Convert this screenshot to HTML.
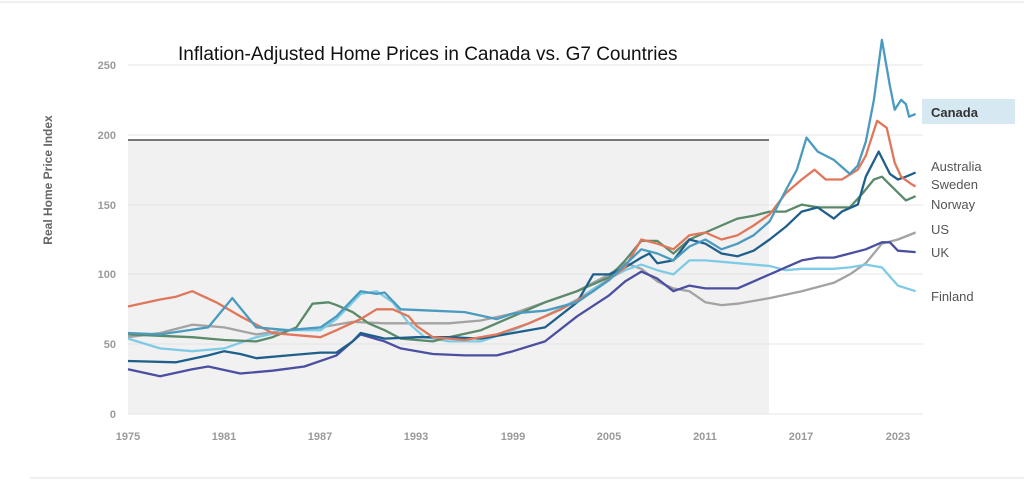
<!DOCTYPE html>
<html><head><meta charset="utf-8"><style>
html,body{margin:0;padding:0;background:#fff;width:1024px;height:480px;overflow:hidden}
svg{display:block;font-family:"Liberation Sans",sans-serif}
</style></head><body>
<svg id="s" width="1024" height="480" xmlns="http://www.w3.org/2000/svg">
<rect x="0" y="0" width="1024" height="480" fill="#fff"/>
<line x1="0" y1="2" x2="1024" y2="2" stroke="#f0f0f0" stroke-width="2"/>
<line x1="30" y1="478" x2="1024" y2="478" stroke="#f0f0f0" stroke-width="2"/>
<rect x="128" y="140" width="641" height="274" fill="#f1f1f1"/>
<g stroke="#e4e4e4" stroke-width="1">
<line x1="128" y1="65" x2="923" y2="65"/><line x1="128" y1="135" x2="923" y2="135"/>
<line x1="128" y1="205" x2="923" y2="205"/><line x1="128" y1="274" x2="923" y2="274"/>
<line x1="128" y1="344" x2="923" y2="344"/><line x1="128" y1="414" x2="923" y2="414"/>
</g>
<line x1="128" y1="140" x2="769" y2="140" stroke="#777" stroke-width="2"/>
<g font-size="11" font-weight="bold" fill="#9a9a9a" text-anchor="end">
<text x="116" y="69">250</text><text x="116" y="139">200</text><text x="116" y="209">150</text>
<text x="116" y="278">100</text><text x="116" y="348">50</text><text x="116" y="418">0</text>
</g>
<g font-size="11" font-weight="bold" fill="#9a9a9a" text-anchor="middle">
<text x="128" y="440">1975</text><text x="224" y="440">1981</text><text x="320" y="440">1987</text>
<text x="416" y="440">1993</text><text x="513" y="440">1999</text><text x="609" y="440">2005</text>
<text x="705" y="440">2011</text><text x="801" y="440">2017</text><text x="898" y="440">2023</text>
</g>
<text transform="translate(52,180) rotate(-90)" font-size="12" font-weight="bold" fill="#666" text-anchor="middle">Real Home Price Index</text>
<text x="178" y="60" font-size="19" fill="#111">Inflation-Adjusted Home Prices in Canada vs. G7 Countries</text>
<g id="lines" fill="none" stroke-width="2.3" stroke-linejoin="round"></g>
<rect x="922" y="99" width="93" height="25" fill="#d6e8f1"/>
<text x="931" y="117" font-size="13" font-weight="bold" fill="#333">Canada</text>
<g font-size="13" fill="#555">
<text x="931" y="171">Australia</text><text x="931" y="189">Sweden</text><text x="931" y="209">Norway</text>
<text x="931" y="234">US</text><text x="931" y="257">UK</text><text x="931" y="301">Finland</text>
</g>
</svg>
<script>
var D={
"#a3a3a3":[1975,55,1977,58,1979,64,1981,62,1983,57,1985,60,1987,62,1989,66,1991,65,1993,65,1995,65,1997,67,1999,72,2001,80,2003,88,2005,100,2006,108,2007,104,2008,95,2009,90,2010,88,2011,80,2012,78,2013,79,2015,83,2017,88,2019,94,2020,100,2021,108,2022,122,2023,125,2024.1,130],
"#7fcbe6":[1975,54,1977,47,1979,45,1981,47,1983,55,1985,60,1987,60,1988,68,1989.5,86,1990.5,88,1991.5,80,1992.5,65,1993.5,55,1995,52,1997,52,1999,60,2001,70,2003,82,2005,97,2006,103,2007,107,2008,103,2009,100,2010,110,2011,110,2013,108,2015,106,2016,103,2017,104,2019,104,2020,105,2021,107,2022,105,2023,92,2024.1,88],
"#4a4fa0":[1975,32,1977,27,1979,32,1980,34,1982,29,1984,31,1986,34,1988,42,1989.5,57,1991,52,1992,47,1994,43,1996,42,1998,42,1999,45,2001,52,2003,70,2005,85,2006,95,2007,102,2008,97,2009,88,2010,92,2011,90,2012,90,2013,90,2014,95,2015,100,2016,105,2017,110,2018,112,2019,112,2020,115,2021,118,2022,123,2022.5,123,2023,117,2024.1,116],
"#5b8a6a":[1975,57,1977,56,1979,55,1981,53,1983,52,1984,55,1985.5,62,1986.5,79,1987.5,80,1988,78,1989,73,1990,65,1991,60,1992,54,1993,53,1994,52,1995,55,1997,60,1999,70,2001,80,2003,88,2005,98,2006,110,2007,124,2008,124,2009,115,2010,125,2011,130,2012,135,2013,140,2014,142,2015,145,2016,145,2017,150,2018,148,2019,148,2020,148,2020.8,158,2021.5,168,2022,170,2022.7,162,2023.5,153,2024.1,156],
"#1f5f8b":[1975,38,1978,37,1980,42,1981,45,1982,43,1983,40,1985,42,1987,44,1988,44,1989,52,1989.5,58,1991,54,1993,55,1995,55,1997,54,1999,58,2001,62,2003,80,2004,100,2005,100,2006,105,2007,112,2007.5,115,2008,108,2009,110,2010,125,2011,122,2012,115,2013,113,2014,117,2015,125,2016,134,2017,145,2018,148,2019,140,2019.5,145,2020.5,150,2021,170,2021.8,188,2022.5,172,2023,168,2023.5,170,2024.1,173],
"#e0775a":[1975,77,1977,82,1978,84,1979,88,1980.5,80,1982,70,1984,58,1986,56,1987,55,1988,60,1989.5,68,1990.5,75,1991.5,75,1992.5,70,1993,63,1994,55,1996,53,1998,57,2000,65,2002,75,2004,88,2006,105,2007,125,2008,122,2009,118,2010,128,2011,130,2012,125,2013,128,2014,135,2015,143,2016,158,2017,168,2017.8,175,2018.5,168,2019.5,168,2020.5,175,2021,185,2021.7,210,2022.3,205,2022.8,180,2023.2,170,2023.8,165,2024.1,163],
"#4a9bbf":[1975,58,1977,57,1980,62,1981.5,83,1983,62,1985,60,1987,62,1988,70,1989.5,88,1990.5,86,1991,87,1992,75,1994,74,1996,73,1998,68,1999,72,2001,74,2003,80,2005,96,2007,118,2008,115,2009,110,2010,120,2011,125,2012,118,2013,122,2014,128,2015,138,2016,160,2016.7,175,2017.3,198,2018,188,2019,182,2020,172,2020.5,178,2021,195,2021.5,225,2022,268,2022.5,235,2022.8,218,2023.2,225,2023.5,222,2023.7,213,2024.1,215]
};
var g=document.getElementById("lines"),ns="http://www.w3.org/2000/svg";
for(var c in D){var a=D[c],p=[];for(var i=0;i<a.length;i+=2)p.push((128+16.04*(a[i]-1975)).toFixed(1)+","+(414-1.396*a[i+1]).toFixed(1));
var e=document.createElementNS(ns,"polyline");e.setAttribute("points",p.join(" "));e.setAttribute("stroke",c);g.appendChild(e);}
</script>
</body></html>
